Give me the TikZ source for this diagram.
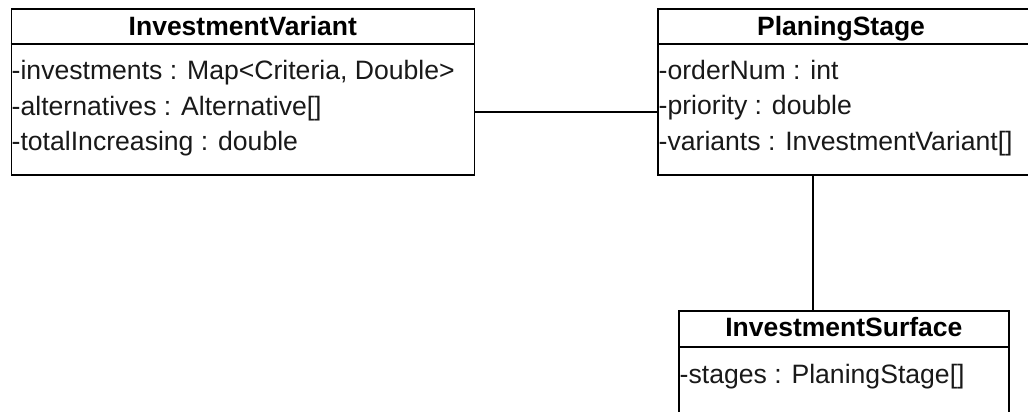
\documentclass[tikz,border=0pt]{standalone}
\usepackage{fontspec}
\setmainfont{Liberation Sans}
\begin{document}
\begin{tikzpicture}[x=1pt,y=-1pt,
  classbox/.style={draw=black, line width=1.7pt, rectangle, inner sep=0pt, anchor=north west},
  sepline/.style={draw=black, line width=1.7pt},
  assoc/.style={draw=black, line width=1.7pt},
  classname/.style={font=\fontsize{26.5}{26.5}\selectfont\bfseries, text=black, anchor=base, inner sep=0pt},
  attr/.style={font=\fontsize{26.6}{26.6}\selectfont, text=black!90, anchor=base west, inner sep=0pt}]
\useasboundingbox (0,0) rectangle (1028,412);
\clip (0,0) rectangle (1028,412);
\fill[white] (0,0) rectangle (1028,412);

% class boxes
\node[classbox, minimum width=463pt, minimum height=166pt] (iv) at (10.5,8) {};
\node[classbox, minimum width=376pt, minimum height=166pt] (ps) at (657,8) {};
\node[classbox, minimum width=330pt, minimum height=110pt] (is) at (678,310) {};

% header separators
\draw[sepline] (iv.west |- 0,44) -- (iv.east |- 0,44);
\draw[sepline] (ps.west |- 0,44) -- (ps.east |- 0,44);
\draw[sepline] (is.west |- 0,347) -- (is.east |- 0,347);

% class names
\node[classname] (ivname) at (iv.center |- 0,36) {InvestmentVariant};
\node[classname] (psname) at (841,36) {PlaningStage};
\node[classname] (isname) at (is.center |- 0,336) {InvestmentSurface};

% attributes
\node[attr] (iv1) at (11.5,80) {-investments : Map<Criteria, Double>};
\node[attr] (iv2) at (11.5,115) {-alternatives : Alternative[]};
\node[attr] (iv3) at (11.5,150) {-totalIncreasing : double};

\node[attr] (ps1) at (658.5,79) {-orderNum : int};
\node[attr] (ps2) at (658.5,114.5) {-priority : double};
\node[attr] (ps3) at (658.5,150) {-variants : InvestmentVariant[]};

\node[attr] (is1) at (679.5,383) {-stages : PlaningStage[]};

% associations
\draw[assoc] ([yshift=-20pt]iv.east) -- ([yshift=-20pt]ps.west);
\draw[assoc] ([xshift=-33pt]ps.south) -- ([xshift=-31pt]is.north);
\end{tikzpicture}
\end{document}
